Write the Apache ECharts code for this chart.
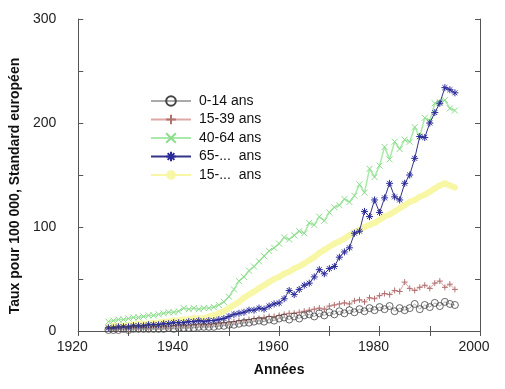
<!DOCTYPE html>
<html><head><meta charset="utf-8">
<script src="https://cdn.jsdelivr.net/npm/echarts@6/dist/echarts.min.js"></script>
<style>html,body{margin:0;padding:0;background:#fff}#c{width:505px;height:389px}</style>
</head><body><div id="c"></div>
<script>
var years = [];
for (var y = 1926; y <= 1995; y++) years.push(y);

var ans0_14 = [1,1,1,2,1,2,2,2,2,2, 2,2,3,2,3,3,3,3,4,4, 4,4,5,5,6,6,7,8,8,9, 10,9,11,10,12,13,11,14,12,15, 16,14,17,15,18,16,19,17,20,18, 21,19,22,20,23,21,24,19,22,20, 22,26,21,25,23,27,24,28,26,25];
var ans15_39 = [2,2,2,3,2,3,3,3,3,4, 4,4,4,5,5,5,5,6,6,6, 6,7,7,8,8,9,10,10,11,12, 12,13,14,14,15,16,17,17,18,19, 20,21,22,21,24,25,26,27,26,29, 30,28,32,31,34,36,35,39,38,47, 41,39,42,44,41,46,48,42,45,40];
var ans40_64 = [9,10,11,11,12,13,13,14,15,15, 16,17,18,18,19,22,21,22,21,22, 22,23,25,28,33,40,48,52,58,62, 67,72,77,80,84,90,88,92,96,94, 104,102,110,106,114,119,121,127,124,130, 141,133,156,148,159,177,165,182,175,184, 182,196,187,205,202,219,220,222,214,212];
var ans65 = [3,3,4,4,4,5,5,5,6,6, 6,7,7,8,8,8,9,9,10,9, 10,10,11,12,14,16,17,18,20,20, 22,21,24,26,27,31,39,35,40,44, 46,52,59,55,60,62,71,76,80,94, 96,115,110,126,114,128,142,129,126,142, 150,166,187,186,200,210,219,234,232,229];
var ans15plus = [4,5,5,5,6,6,7,7,7,8, 8,9,9,10,10,11,11,12,12,12, 14,15,17,19,22,25,28,32,35,38, 41,44,47,50,52,55,57,60,62,65, 68,71,75,78,81,84,86,89,92,95, 97,100,102,104,107,110,112,115,118,121, 124,126,129,131,134,137,140,142,140,138];

var seriesNames = ['0-14 ans','15-39 ans','40-64 ans','65-...  ans','15-...  ans'];
var xTicks = [1920,1940,1960,1980,2000];
var yTicks = [0,100,200,300];

function pairs(arr){ return arr.map(function(v,i){ return [years[i], v]; }); }

var PLUS = 'path://M5,0L5,10M0,5L10,5';
var CROSS = 'path://M0,0L10,10M10,0L0,10';
var STAR = 'path://M5,0L5,10M0,5L10,5M1.5,1.5L8.5,8.5M8.5,1.5L1.5,8.5';
var RING = 'path://M10,5A5,5,0,1,1,0,5A5,5,0,1,1,10,5Z';
var FONT = 'Liberation Sans';

var chart = echarts.init(document.getElementById('c'));
var axisLineStyle = {color:'#555', width:1};
chart.setOption({
  animation:false,
  backgroundColor:'#fff',
  textStyle:{fontFamily:FONT},
  grid:{left:77, right:25, top:19, bottom:58},
  legend:{
    orient:'vertical', left:145, top:89, itemWidth:40, itemHeight:12, itemGap:4.5,
    textStyle:{fontFamily:FONT, fontSize:14, color:'#111', padding:[0,0,0,3]},
    data:seriesNames
  },
  xAxis:[{
    type:'value', min:1920, max:2000, interval:10,
    name:'Années', nameLocation:'middle', nameGap:32,
    nameTextStyle:{fontFamily:FONT, fontWeight:'bold', fontSize:14, color:'#111'},
    axisLine:{lineStyle:axisLineStyle}, axisTick:{inside:true, length:5, lineStyle:axisLineStyle},
    splitLine:{show:false},
    axisLabel:{fontFamily:FONT, fontSize:14, color:'#222', margin:9, padding:[0,12,0,0],
      formatter:function(v){ return xTicks.indexOf(v) >= 0 ? String(v) : ''; }}
  },{
    type:'value', position:'top', min:1920, max:2000, interval:10,
    axisLine:{lineStyle:axisLineStyle}, axisTick:{inside:true, length:5, lineStyle:axisLineStyle},
    axisLabel:{show:false}, splitLine:{show:false}
  }],
  yAxis:[{
    type:'value', min:0, max:300, interval:50,
    name:'Taux pour 100 000, Standard européen', nameLocation:'middle', nameGap:56,
    nameTextStyle:{fontFamily:FONT, fontWeight:'bold', fontSize:14, color:'#111', padding:[0,22,0,0]},
    axisLine:{show:true, lineStyle:axisLineStyle}, axisTick:{show:true, inside:true, length:5, lineStyle:axisLineStyle},
    splitLine:{show:false},
    axisLabel:{fontFamily:FONT, fontSize:14, color:'#222', margin:22,
      formatter:function(v){ return yTicks.indexOf(v) >= 0 ? String(v) : ''; }}
  },{
    type:'value', position:'right', min:0, max:300, interval:50,
    axisLine:{show:true, lineStyle:axisLineStyle}, axisTick:{show:true, inside:true, length:5, lineStyle:axisLineStyle},
    axisLabel:{show:false}, splitLine:{show:false}
  }],
  series:[
    {name:seriesNames[4], type:'line', data:pairs(ans15plus), symbol:'circle', symbolSize:6,
     itemStyle:{color:'#f7f7a6'}, lineStyle:{color:'#f7f7a6', width:6}, z:1},
    {name:seriesNames[2], type:'line', data:pairs(ans40_64), symbol:CROSS, symbolSize:6,
     itemStyle:{color:'#8edc8e', borderColor:'#8edc8e', borderWidth:1}, lineStyle:{color:'#a8eaa8', width:1.5}, z:2},
    {name:seriesNames[1], type:'line', data:pairs(ans15_39), symbol:PLUS, symbolSize:6,
     itemStyle:{color:'#b07070', borderColor:'#b07070', borderWidth:1}, lineStyle:{color:'#e0a8a8', width:1}, z:3},
    {name:seriesNames[3], type:'line', data:pairs(ans65), symbol:STAR, symbolSize:7,
     itemStyle:{color:'#2a2a9a', borderColor:'#2a2a9a', borderWidth:1}, lineStyle:{color:'#34348a', width:1}, z:4},
    {name:seriesNames[0], type:'line', data:pairs(ans0_14), symbol:RING, symbolSize:7,
     itemStyle:{color:'rgba(255,255,255,0)', borderColor:'#444', borderWidth:0.8}, lineStyle:{color:'#aaa', width:1}, z:5}
  ]
});
</script></body></html>
